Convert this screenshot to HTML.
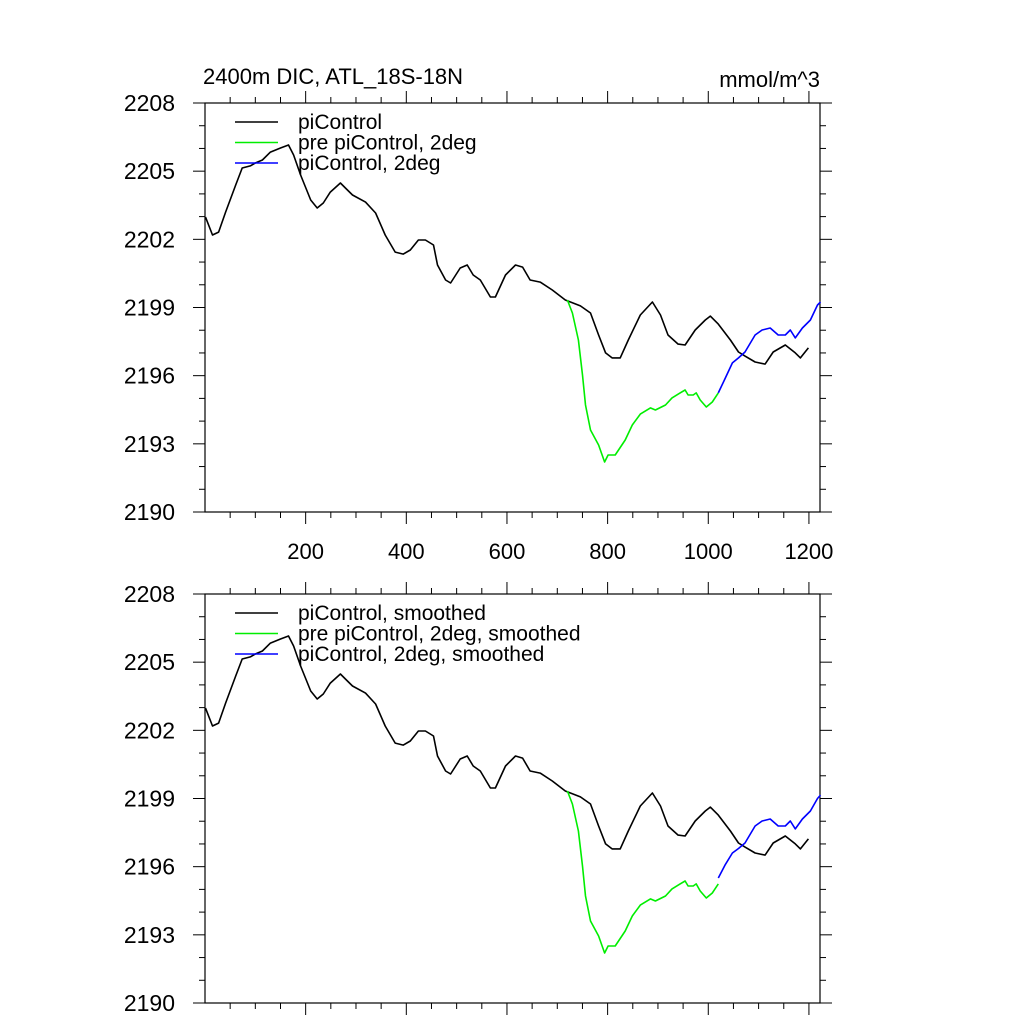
<!DOCTYPE html>
<html><head><meta charset="utf-8"><style>
body{margin:0;background:#fff;}
svg{display:block;font-family:"Liberation Sans",sans-serif;}
</style></head><body>
<svg id="chart" width="1024" height="1024" xmlns="http://www.w3.org/2000/svg">
<text x="203" y="84" font-size="22">2400m DIC, ATL_18S-18N</text>
<text x="820" y="87" font-size="22" text-anchor="end">mmol/m^3</text>
</svg>
<script>
const blackYears=[1,15,27,41,61,74,90,100,114,130,150,166,176,190,210,223,235,249,269,279,293,319,339,358,378,394,408,424,438,454,462,478,488,507,521,533,547,567,577,597,617,631,646,666,690,716,746,766,782,796,809,825,841,865,889,905,920,940,954,974,994,1004,1020,1044,1060,1073,1093,1113,1129,1153,1173,1183,1199];
const blackVals=[2202.98,2202.19,2202.32,2203.2,2204.39,2205.14,2205.23,2205.36,2205.49,2205.84,2206.02,2206.15,2205.71,2204.83,2203.73,2203.38,2203.6,2204.08,2204.48,2204.26,2203.95,2203.64,2203.16,2202.19,2201.44,2201.35,2201.53,2201.97,2201.97,2201.75,2200.87,2200.21,2200.08,2200.74,2200.87,2200.43,2200.21,2199.46,2199.46,2200.43,2200.87,2200.78,2200.21,2200.12,2199.77,2199.33,2199.07,2198.76,2197.79,2197.0,2196.78,2196.78,2197.57,2198.67,2199.24,2198.67,2197.79,2197.39,2197.35,2198.01,2198.45,2198.62,2198.27,2197.57,2197.04,2196.86,2196.6,2196.51,2197.04,2197.35,2197.0,2196.78,2197.22];
const greenYears=[720,730,742,750,756,766,782,794,801,815,835,849,865,885,895,915,928,944,954,960,970,976,984,996,1008,1020];
const greenVals=[2199.33,2198.76,2197.57,2196.03,2194.71,2193.61,2192.95,2192.2,2192.51,2192.51,2193.17,2193.83,2194.31,2194.58,2194.49,2194.71,2195.02,2195.24,2195.37,2195.15,2195.15,2195.24,2194.93,2194.62,2194.84,2195.24];
const blueYears=[1020,1034,1048,1060,1073,1093,1107,1123,1139,1153,1163,1173,1187,1203,1217,1223];
const blueVals=[2195.24,2195.9,2196.56,2196.78,2197.04,2197.79,2198.01,2198.1,2197.79,2197.79,2198.01,2197.66,2198.1,2198.45,2199.11,2199.24];
const blueSmoothVals=[2195.5,2196.1,2196.6,2196.8,2197.04,2197.79,2198.01,2198.1,2197.79,2197.79,2198.01,2197.66,2198.1,2198.45,2199.0,2199.15];
const yTicks=[2190,2193,2196,2199,2202,2205,2208];
const xTicks=[200,400,600,800,1000,1200];
const legendTop=["piControl","pre piControl, 2deg","piControl, 2deg"];
const legendBot=["piControl, smoothed","pre piControl, 2deg, smoothed","piControl, 2deg, smoothed"];
const colors=["#000000","#00ee00","#0000ff"];

const NS="http://www.w3.org/2000/svg";
const svg=document.getElementById('chart');
const L=205,R=820,X0=0,X1=1222,Y0=2190,Y1=2208;
function sx(v){return L+(v-X0)/(X1-X0)*(R-L);}
function mk(t,a,p){const e=document.createElementNS(NS,t);for(const k in a)e.setAttribute(k,a[k]);(p||svg).appendChild(e);return e;}

function panel(top,bot,name,legend,showX,blueV){
  const sy=v=>bot-(v-Y0)/(Y1-Y0)*(bot-top);
  const g=mk('g',{});
  
  
  const frame=mk('rect',{x:L,y:top,width:R-L,height:bot-top,fill:'none',stroke:'#000','stroke-width':1.2},g);
  
  
  for(let v=Y0;v<=Y1;v++){
    const maj=(v-Y0)%3===0,len=maj?12:6,y=sy(v);
    const t1=mk('line',{x1:L-len,x2:L,y1:y,y2:y,stroke:'#000','stroke-width':1},g);
    
    
    const t2=mk('line',{x1:R,x2:R+len,y1:y,y2:y,stroke:'#000','stroke-width':1},g);
    
    
  }
  yTicks.forEach(v=>{
    const t=mk('text',{x:175,y:sy(v)+8,'font-size':23,'text-anchor':'end'},g);
    t.textContent=v;
    
    
  });
  for(let v=50;v<=1200;v+=50){
    const maj=v%200===0,len=maj?12:6,x=sx(v);
    const t1=mk('line',{x1:x,x2:x,y1:bot,y2:bot+len,stroke:'#000','stroke-width':1},g);
    
    
    const t2=mk('line',{x1:x,x2:x,y1:top-len,y2:top,stroke:'#000','stroke-width':1},g);
    
    
  }
  if(showX) xTicks.forEach(v=>{
    const t=mk('text',{x:sx(v),y:bot+47,'font-size':22,'text-anchor':'middle'},g);
    t.textContent=v;
    
    
  });
  const series=[[blackYears,blackVals],[greenYears,greenVals],[blueYears,blueV]];
  series.forEach((s,i)=>{
    const pts=s[0].map((yr,j)=>sx(yr).toFixed(1)+','+sy(s[1][j]).toFixed(1)).join(' ');
    const pl=mk('polyline',{points:pts,fill:'none',stroke:colors[i],'stroke-width':1.6,'stroke-linejoin':'round'},g);
    
    
  });
  legend.forEach((lab,i)=>{
    const y=top+19+i*20.5;
    const ln=mk('line',{x1:235,x2:278,y1:y,y2:y,stroke:colors[i],'stroke-width':1.5},g);
    
    
    const t=mk('text',{x:298,y:y+7,'font-size':21},g);
    t.textContent=lab;
    
    
  });
}
panel(103,512,'top-panel',legendTop,true,blueVals);
panel(594,1003,'bottom-panel',legendBot,false,blueSmoothVals);
</script>
</body></html>
